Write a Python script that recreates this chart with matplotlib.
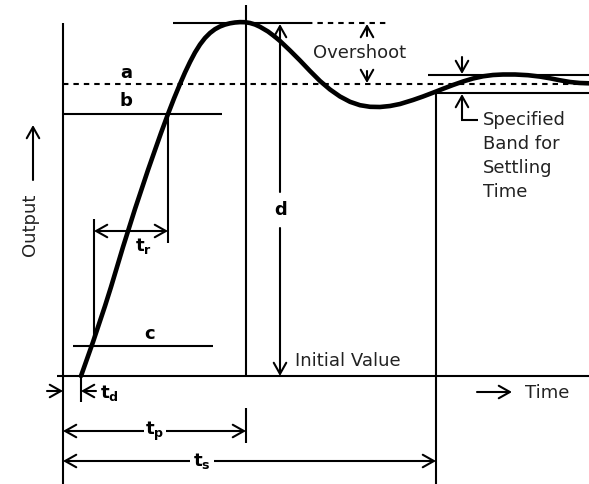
import matplotlib
matplotlib.use('Agg')
import matplotlib.pyplot as plt

# coordonnees en pixels de l'image (y vers le bas)
curve_t = [81, 87, 93, 99, 105, 111, 117, 123, 129, 135, 142, 148, 155, 161, 168,
           174, 180, 185, 190, 195, 200, 205, 210, 215, 220, 225, 230, 235, 240,
           245, 250, 255, 260, 268, 275, 280, 290, 300, 310, 320, 330, 340, 350,
           360, 370, 380, 390, 400, 413, 423, 433, 443, 453, 463, 473, 483, 493,
           503, 515, 528, 540, 550, 560, 570, 580, 589]
curve_out = [376, 359, 342, 324, 306, 287, 267, 247, 228, 209, 188, 170, 150, 133, 114,
             98.5, 84, 72.5, 62, 52.5, 44.5, 38, 33, 29.2, 26.5, 24.6, 23.3, 22.5, 22.1,
             22.2, 23, 24.5, 26.8, 31.5, 36.8, 41, 50.5, 60.5, 71, 81, 89.5, 96.5, 101.8,
             105.2, 106.8, 107, 106, 104, 100, 96.5, 92.7, 88.8, 85, 81.5, 78.5, 76.3, 75,
             74.5, 74.5, 75.2, 76.6, 78.3, 80.3, 82, 83, 83.3]

# niveaux (y) et instants (x)
niveau_base = 376
niveau_final = 84
niveau_pic = 23
niveau_b = 114
niveau_c = 346
bande_haut = 75
bande_bas = 93

x_axe = 63
t_d = 81
t_r0, t_r1 = 94, 168
t_p = 246
x_d = 280
t_s = 436

LW = 1.5
FS = 13

fig = plt.figure(figsize=(5.89, 4.84), dpi=100)
ax = fig.add_axes([0, 0, 1, 1])
ax.set_xlim(0, 589)
ax.set_ylim(484, 0)
ax.axis('off')


def fleche(x0, y0, x1, y1, style='->'):
    ax.annotate('', xy=(x1, y1), xytext=(x0, y0),
                arrowprops=dict(arrowstyle=style + ',head_length=0.8,head_width=0.45',
                                lw=LW, color='k', shrinkA=0, shrinkB=0,
                                mutation_scale=10))


def ligne(xs, ys, **kw):
    kw.setdefault('lw', LW)
    ax.plot(xs, ys, color='k', solid_capstyle='butt', **kw)


# axes et lignes de reference
ligne([x_axe, x_axe], [niveau_pic, 484])
ligne([57, 589], [niveau_base, niveau_base])
ligne([x_axe, 589], [niveau_final, niveau_final], ls=(0, (2.6, 2.4)))
ligne([x_axe, 222], [niveau_b, niveau_b])
ligne([73, 213], [niveau_c, niveau_c])
ligne([173, 307], [niveau_pic, niveau_pic])
ligne([307, 390], [niveau_pic, niveau_pic], ls=(0, (2.6, 2.4)))
ligne([t_p, t_p], [5, niveau_base])
ligne([t_s, t_s], [bande_bas, 484])
ligne([428, 589], [bande_haut, bande_haut])
ligne([t_s, 589], [bande_bas, bande_bas])

# reponse indicielle
ax.plot(curve_t, curve_out, color='k', lw=3.3, solid_capstyle='round',
        solid_joinstyle='round')

# temps de montee
ligne([t_r0, t_r0], [219, 337])
ligne([t_r1, t_r1], [niveau_b, 243])
fleche(t_r0, 231, t_r1, 231, '<->')
ax.text(143, 246, r'$\mathbf{t}_\mathbf{r}$', fontsize=FS, ha='center', va='center')

# d
fleche(x_d, 192, x_d, niveau_pic + 1)
fleche(x_d, 228, x_d, niveau_base)
ax.text(x_d + 1, 210, 'd', fontsize=FS, fontweight='bold', ha='center', va='center')

# depassement
fleche(367, 36, 367, niveau_pic + 1)
fleche(367, 71, 367, niveau_final - 1)
ax.text(313, 53, 'Overshoot', fontsize=FS, ha='left', va='center', color='#222222')

# bande de tolerance
fleche(462, 57, 462, bande_haut - 1)
fleche(462, 120, 462, bande_bas + 1)
ligne([461, 478], [120, 120])
ax.text(483, 156, 'Specified\nBand for\nSettling\nTime', fontsize=FS, ha='left',
        va='center', linespacing=1.45, color='#222222')

# etiquettes a b c
ax.text(126, 73, 'a', fontsize=FS, fontweight='bold', ha='center', va='center')
ax.text(126, 101, 'b', fontsize=FS, fontweight='bold', ha='center', va='center')
ax.text(150, 334, 'c', fontsize=FS, fontweight='bold', ha='center', va='center')
ax.text(295, 361, 'Initial Value', fontsize=FS, ha='left', va='center', color='#222222')

# axes
fleche(33, 180, 33, 125)
ax.text(30, 225, 'Output', fontsize=FS, rotation=90, ha='center', va='center', color='#222222')
fleche(477, 392, 512, 392)
ax.text(525, 393, 'Time', fontsize=FS, ha='left', va='center', color='#222222')

# temps de retard
ligne([t_d, t_d], [niveau_base, 402])
fleche(47, 391, x_axe, 391)
fleche(96, 391, t_d, 391)
ax.text(100, 393, r'$\mathbf{t}_\mathbf{d}$', fontsize=FS, ha='left', va='center')

# temps de pic
ligne([t_p, t_p], [408, 443])
fleche(x_axe, 431, t_p, 431, '<->')
ax.text(155, 431, r'$\mathbf{t}_\mathbf{p}$', fontsize=FS, ha='center', va='center',
        bbox=dict(facecolor='white', edgecolor='none', pad=1))

# temps d'etablissement
fleche(x_axe, 461, t_s, 461, '<->')
ax.text(202, 461, r'$\mathbf{t}_\mathbf{s}$', fontsize=FS, ha='center', va='center',
        bbox=dict(facecolor='white', edgecolor='none', pad=2))

fig.savefig('out.png', dpi=100)
